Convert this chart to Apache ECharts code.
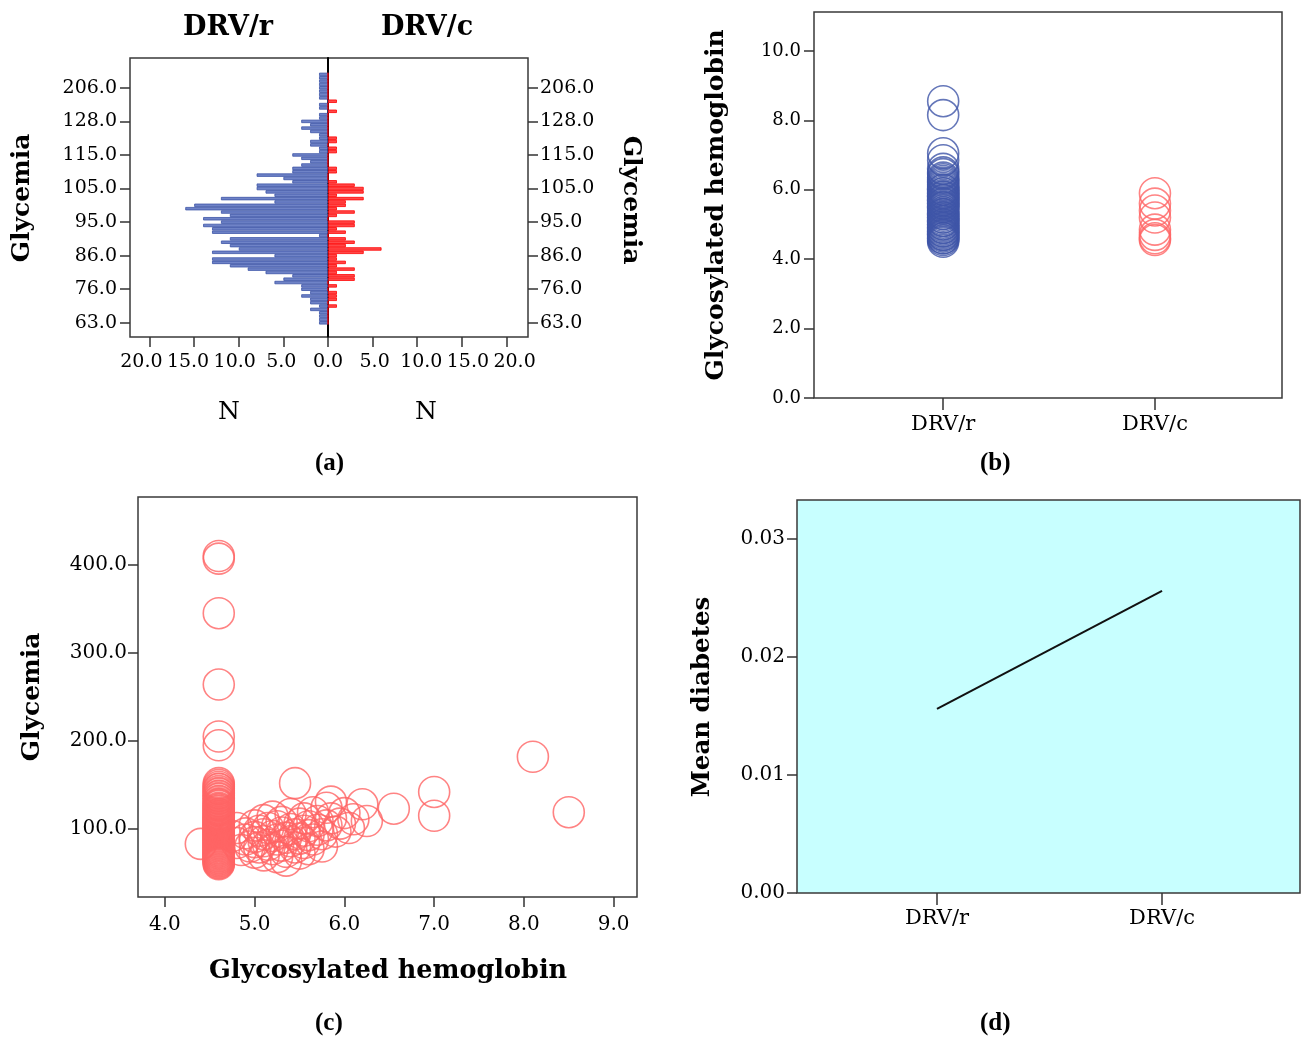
<!DOCTYPE html>
<html>
<head>
<meta charset="utf-8">
<script src="https://cdn.jsdelivr.net/npm/echarts@6/dist/echarts.min.js"></script>
<style>
  html, body { margin: 0; padding: 0; background: #fff; }
  #chart { width: 1302px; height: 1040px; }
</style>
</head>
<body>
<div id="chart"></div>
<script>
// ---- (a) population pyramid of glycemia by regimen ----
// distinct glycemia values, ascending (category axis, bottom to top)
const glycemiaLevels = [
  63, 65, 66, 67, 68, 70, 71, 72, 73, 74,
  76, 77, 78, 79, 80, 81, 82, 83, 84, 85,
  86, 87, 88, 89, 90, 91, 91.5, 92, 93, 94,
  95, 96, 97, 98, 99, 100, 101, 102, 103, 104,
  105, 106, 107, 108, 109, 110, 111, 112, 113, 114,
  115, 116, 117, 118, 119, 120, 121, 122, 124, 126,
  128, 130, 135, 140, 143, 145, 150, 153, 182, 195,
  206, 265, 345, 408, 410
];
// patient counts per glycemia value
const countsDRVr = [
  1, 1, 1, 1, 2, 1, 2, 2, 3, 2,
  3, 3, 6, 5, 4, 7, 9, 11, 13, 13,
  6, 13, 10, 11, 12, 11, 1, 13, 13, 14,
  12, 14, 11, 12, 16, 15, 6, 12, 6, 7,
  8, 8, 4, 5, 8, 4, 4, 3, 2, 3,
  4, 1, 1, 2, 2, 1, 1, 2, 3, 2,
  3, 1, 1, 0, 1, 1, 0, 1, 1, 1,
  1, 1, 1, 1, 1
];
const countsDRVc = [
  0, 0, 0, 0, 0, 1, 0, 1, 1, 1,
  0, 1, 0, 3, 3, 1, 3, 1, 2, 1,
  1, 4, 6, 2, 3, 2, 0, 2, 1, 3,
  3, 0, 1, 3, 1, 2, 2, 4, 1, 4,
  4, 3, 1, 0, 0, 1, 1, 0, 0, 0,
  0, 1, 1, 0, 1, 1, 0, 0, 0, 0,
  0, 0, 0, 1, 0, 0, 1, 0, 0, 0,
  0, 0, 0, 0, 0
];
const countTicks = [0, 5, 10, 15, 20];

// ---- (b) glycosylated hemoglobin by regimen ----
const groupNames = ['DRV/r', 'DRV/c'];
const hbaDRVr = [
  8.55, 8.15, 7.05, 6.85, 6.6, 6.5, 6.45, 6.35, 6.3, 6.25,
  6.2, 6.15, 6.1, 6.05, 6.0, 6.0, 5.95, 5.9, 5.9, 5.85,
  5.8, 5.8, 5.75, 5.7, 5.7, 5.65, 5.6, 5.6, 5.55, 5.5,
  5.5, 5.45, 5.4, 5.35, 5.3, 5.3, 5.25, 5.2, 5.2, 5.15,
  5.1, 5.1, 5.05, 5.0, 5.0, 4.95, 4.9, 4.9, 4.85, 4.8,
  4.8, 4.75, 4.7, 4.7, 4.65, 4.6, 4.6, 4.55, 4.5
];
const hbaDRVc = [5.9, 5.6, 5.4, 5.2, 4.85, 4.7, 4.6, 4.55];
const hbaTicks = [0, 2, 4, 6, 8, 10];

// ---- (c) glycemia against glycosylated hemoglobin ----
// patients recorded at HbA1c 4.6 (glycemia values)
const glycemiaAt46 = [
  410, 407, 345, 264, 205, 195, 152, 150, 148, 146,
  145, 143, 141, 140, 138, 137, 135, 134, 132, 131,
  129, 128, 127, 126, 124, 123, 122, 121, 120, 118,
  117, 116, 115, 114, 113, 112, 111, 110, 109, 108,
  107, 106, 105, 104, 103, 102, 101, 100, 99, 98,
  97, 96, 95, 94, 93, 92, 91, 90, 89, 88,
  87, 86, 85, 84, 83, 82, 81, 80, 79, 78,
  77, 76, 75, 74, 73, 72, 71, 70, 69, 68,
  67, 66, 65, 64, 63, 62, 61, 60
];
// remaining patients: HbA1c and glycemia pairs
const otherHba = [
  4.4, 4.75, 4.8, 4.8, 4.85, 4.9, 4.9, 4.95, 5.0, 5.0,
  5.0, 5.0, 5.05, 5.05, 5.1, 5.1, 5.1, 5.1, 5.15, 5.15,
  5.2, 5.2, 5.2, 5.25, 5.25, 5.25, 5.3, 5.3, 5.3, 5.35,
  5.35, 5.35, 5.4, 5.4, 5.4, 5.45, 5.45, 5.45, 5.5, 5.5,
  5.5, 5.55, 5.55, 5.55, 5.6, 5.6, 5.6, 5.65, 5.65, 5.7,
  5.7, 5.75, 5.75, 5.8, 5.8, 5.85, 5.85, 5.9, 5.95, 6.0,
  6.05, 6.1, 6.2, 6.25, 6.55, 7.0, 7.0, 8.1, 8.5
];
const otherGlycemia = [
  83, 92, 84, 101, 76, 95, 88, 80, 104, 91,
  85, 73, 98, 79, 110, 94, 86, 70, 101, 82,
  92, 77, 114, 88, 103, 68, 96, 81, 108, 90,
  74, 64, 100, 86, 117, 94, 79, 152, 106, 89,
  72, 98, 84, 112, 93, 103, 77, 88, 119, 99,
  109, 80, 94, 104, 124, 131, 112, 97, 106, 118,
  101, 111, 128, 109, 123, 142, 115, 182, 119
];
const hbaAxisTicks = [4, 5, 6, 7, 8, 9];
const glycemiaAxisTicks = [100, 200, 300, 400];

// ---- (d) mean diabetes by regimen ----
const meanDiabetes = [0.0156, 0.0256];
const diabetesTicks = [0, 0.01, 0.02, 0.03];

const SERIF = 'DejaVu Serif';
const BORDER = '#3a3a3a';
const tickLabel = (size, margin, fmt, extra) => Object.assign({
  color: '#000', fontFamily: SERIF, fontSize: size, margin: margin, formatter: fmt
}, extra || {});
const tick = (extra) => Object.assign({ show: true, inside: false, length: 10,
  lineStyle: { color: '#333', width: 1.5 } }, extra || {});
const noLine = { show: false, onZero: false };
const noSplit = { show: false };
const gridBox = { show: true, borderColor: BORDER, borderWidth: 1.5, containLabel: false };

const ring = (color) => ({ color: 'rgba(0,0,0,0)', borderColor: color, borderWidth: 1.6 });

function label(text, x, y, opts) {
  opts = opts || {};
  return {
    type: 'text', x: x, y: y, rotation: opts.rotation || 0,
    style: {
      text: text,
      font: (opts.weight || 'bold') + ' ' + (opts.size || 25) + 'px "' + SERIF + '"',
      fill: '#000', align: 'center', verticalAlign: 'middle',
      textAlign: 'center', textVerticalAlign: 'middle'
    }
  };
}
// panel captions such as "(a)" with the letter in bold
function caption(letter, cx, cy) {
  return {
    text: '{p|(}{b|' + letter + '}{p|)}',
    left: cx - 15, top: cy - 14, padding: 0,
    textStyle: {
      rich: {
        p: { fontFamily: 'Liberation Serif', fontSize: 25, color: '#000' },
        b: { fontFamily: 'Liberation Serif', fontSize: 25, fontWeight: 'bold', color: '#000' }
      }
    }
  };
}

const chart = echarts.init(document.getElementById('chart'));
chart.setOption({
  animation: false,
  backgroundColor: '#fff',
  textStyle: { fontFamily: SERIF },
  title: [caption('a', 330, 465), caption('b', 995, 465), caption('c', 330, 1025), caption('d', 995, 1025)],
  grid: [
    // (a) frames; their x axes carry the spread-out count labels
    Object.assign({ left: 130, top: 58, width: 198, height: 279 }, gridBox),
    Object.assign({ left: 328, top: 58, width: 200, height: 279 }, gridBox),
    // (a) plotting areas for the bars
    { left: 130, top: 72.7, width: 198, height: 251.8, show: false },
    { left: 328, top: 72.7, width: 200, height: 251.8, show: false },
    // (b), (c), (d)
    Object.assign({ left: 814, top: 12, width: 468, height: 386 }, gridBox),
    Object.assign({ left: 138, top: 497, width: 499, height: 400 }, gridBox),
    Object.assign({ left: 797, top: 500, width: 503, height: 393, backgroundColor: '#c8ffff' }, gridBox)
  ],
  xAxis: [
    { gridIndex: 0, type: 'value', inverse: true, min: 0, max: 21.22,
      axisLine: noLine, splitLine: noSplit, axisTick: { show: false },
      axisLabel: tickLabel(19, 16, v => v.toFixed(1), { customValues: countTicks }) },
    { gridIndex: 1, type: 'value', min: 0, max: 21.44,
      axisLine: noLine, splitLine: noSplit, axisTick: { show: false },
      axisLabel: tickLabel(19, 16, v => (v === 0 ? '' : v.toFixed(1)), { customValues: countTicks }) },
    { gridIndex: 2, type: 'value', inverse: true, min: 0, max: 22.2, offset: 12.5,
      axisLine: noLine, splitLine: noSplit, axisLabel: { show: false },
      axisTick: tick({ customValues: countTicks }) },
    { gridIndex: 3, type: 'value', min: 0, max: 22.42, offset: 12.5,
      axisLine: noLine, splitLine: noSplit, axisLabel: { show: false },
      axisTick: tick({ customValues: countTicks }) },
    { gridIndex: 4, type: 'value', min: 0.39, max: 2.6,
      axisLine: noLine, splitLine: noSplit,
      axisTick: tick({ customValues: [1, 2], length: 12 }),
      axisLabel: tickLabel(21, 16, v => groupNames[Math.round(v) - 1], { customValues: [1, 2] }) },
    { gridIndex: 5, type: 'value', min: 3.7, max: 9.26,
      axisLine: noLine, splitLine: noSplit,
      axisTick: tick({ customValues: hbaAxisTicks }),
      axisLabel: tickLabel(20, 18, v => v.toFixed(1), { customValues: hbaAxisTicks }) },
    { gridIndex: 6, type: 'value', min: 0.378, max: 2.613,
      axisLine: noLine, splitLine: noSplit,
      axisTick: tick({ customValues: [1, 2], length: 12 }),
      axisLabel: tickLabel(21, 15, v => groupNames[Math.round(v) - 1], { customValues: [1, 2] }) }
  ],
  yAxis: [
    { gridIndex: 0, type: 'value', show: false },
    // black centre line of the pyramid
    { gridIndex: 1, type: 'value', position: 'left',
      axisLine: { show: true, onZero: false, lineStyle: { color: '#000', width: 2 } },
      axisTick: { show: false }, axisLabel: { show: false }, splitLine: noSplit },
    { gridIndex: 2, type: 'category', data: glycemiaLevels, position: 'left',
      axisLine: noLine, splitLine: noSplit,
      axisTick: tick({ interval: 9, alignWithLabel: true }),
      axisLabel: tickLabel(19, 13, v => Number(v).toFixed(1), { interval: 9 }) },
    { gridIndex: 3, type: 'category', data: glycemiaLevels, position: 'right',
      axisLine: noLine, splitLine: noSplit,
      axisTick: tick({ interval: 9, alignWithLabel: true }),
      axisLabel: tickLabel(19, 12, v => Number(v).toFixed(1), { interval: 9 }) },
    { gridIndex: 4, type: 'value', min: 0, max: 11.12,
      axisLine: noLine, splitLine: noSplit,
      axisTick: tick({ customValues: hbaTicks }),
      axisLabel: tickLabel(18, 13, v => v.toFixed(1), { customValues: hbaTicks }) },
    { gridIndex: 5, type: 'value', min: 22.7, max: 477,
      axisLine: noLine, splitLine: noSplit,
      axisTick: tick({ customValues: glycemiaAxisTicks }),
      axisLabel: tickLabel(20, 11, v => v.toFixed(1), { customValues: glycemiaAxisTicks }) },
    { gridIndex: 6, type: 'value', min: 0, max: 0.0333,
      axisLine: noLine, splitLine: noSplit,
      axisTick: tick({ customValues: diabetesTicks }),
      axisLabel: tickLabel(20, 12, v => v.toFixed(2), { customValues: diabetesTicks }) }
  ],
  series: [
    { name: 'DRV/r', type: 'bar', xAxisIndex: 2, yAxisIndex: 2, data: countsDRVr,
      barCategoryGap: '0%',
      itemStyle: { color: '#6f83c7', borderColor: '#3b53a6', borderWidth: 0.8 } },
    { name: 'DRV/c', type: 'bar', xAxisIndex: 3, yAxisIndex: 3, data: countsDRVc,
      barCategoryGap: '0%',
      itemStyle: { color: '#ff4848', borderColor: '#ff0000', borderWidth: 0.8 } },
    { name: 'HbA1c DRV/r', type: 'scatter', xAxisIndex: 4, yAxisIndex: 4,
      data: hbaDRVr.map(v => [1, v]), symbol: 'circle', symbolSize: 31,
      itemStyle: ring('#3f55a8') },
    { name: 'HbA1c DRV/c', type: 'scatter', xAxisIndex: 4, yAxisIndex: 4,
      data: hbaDRVc.map(v => [2, v]), symbol: 'circle', symbolSize: 31,
      itemStyle: ring('#ff6464') },
    { name: 'Glycemia vs HbA1c', type: 'scatter', xAxisIndex: 5, yAxisIndex: 5,
      data: glycemiaAt46.map(g => [4.6, g]).concat(otherHba.map((h, i) => [h, otherGlycemia[i]])),
      symbol: 'circle', symbolSize: 31,
      itemStyle: ring('#ff6464') },
    { name: 'Mean diabetes', type: 'line', xAxisIndex: 6, yAxisIndex: 6,
      data: meanDiabetes.map((v, i) => [i + 1, v]), showSymbol: false, symbol: 'none',
      lineStyle: { color: '#111', width: 2 } }
  ],
  graphic: [
    label('DRV/r', 228, 28, { size: 27 }),
    label('DRV/c', 427, 28, { size: 27 }),
    label('N', 229, 412, { size: 25, weight: 'normal' }),
    label('N', 426, 412, { size: 25, weight: 'normal' }),
    label('Glycemia', 22, 198, { rotation: Math.PI / 2 }),
    label('Glycemia', 630, 200, { rotation: -Math.PI / 2 }),
    label('Glycosylated hemoglobin', 716, 205, { size: 25, rotation: Math.PI / 2 }),
    label('Glycemia', 32, 697, { rotation: Math.PI / 2 }),
    label('Glycosylated hemoglobin', 388, 971, { size: 25.5 }),
    label('Mean diabetes', 703, 697, { size: 24.5, rotation: Math.PI / 2 })
  ]
});
</script>
</body>
</html>
